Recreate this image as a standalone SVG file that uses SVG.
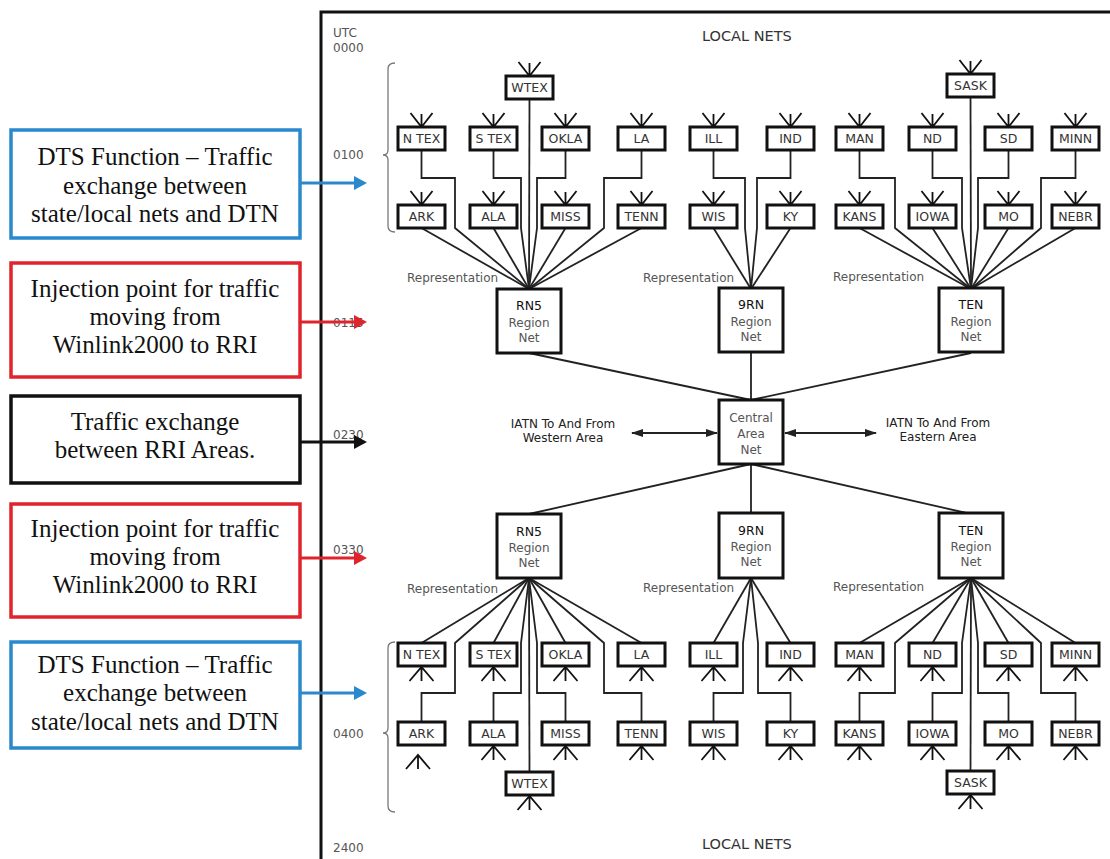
<svg xmlns="http://www.w3.org/2000/svg" xmlns:xlink="http://www.w3.org/1999/xlink" width="1110" height="859" viewBox="0 0 1110 859">
<style>
.bg{fill:#ffffff}
.frame{stroke:#111;stroke-width:3;fill:none}
.box{fill:#fff;stroke:#111;stroke-width:3}
.rbox{fill:#fff;stroke:#111;stroke-width:3}
.lbl{font-family:"DejaVu Sans",sans-serif;font-size:12.5px;fill:#333;text-anchor:middle}
.rlbl{font-family:"DejaVu Sans",sans-serif;font-size:12px;fill:#555;text-anchor:middle}
.rtitle{font-family:"DejaVu Sans",sans-serif;font-size:12.5px;fill:#111;text-anchor:middle}
.small{font-family:"DejaVu Sans",sans-serif;font-size:12px;fill:#555}
.iatn{font-family:"DejaVu Sans",sans-serif;font-size:12px;fill:#222;text-anchor:middle}
.local{font-family:"DejaVu Sans",sans-serif;font-size:14.5px;fill:#333}
.ant{fill:none;stroke:#111;stroke-width:1.8}
.conn{fill:none;stroke:#222;stroke-width:1.8}
.brk{fill:none;stroke:#777;stroke-width:1.3}
.cap{font-family:"Liberation Serif",serif;font-size:25px;fill:#111;text-anchor:middle}
.cb{fill:#fff;stroke-width:3.5}
</style>
<defs>
<path id="antUp" d="M-11,-14 L0,0 L11,-14 M0,0 V-13"/>
<path id="antDn" d="M-12,15 L0,1 L12,15 M0,1 V15"/>
<marker id="ah" viewBox="0 0 12 10" refX="11" refY="5" markerWidth="12" markerHeight="10" markerUnits="userSpaceOnUse" orient="auto-start-reverse"><path d="M0,1 L12,5 L0,9 Z" fill="#222"/></marker>
</defs>
<rect class="bg" x="0" y="0" width="1110" height="859"/>

<!-- frame -->
<path class="frame" d="M321,859 V12 H1110"/>

<!-- time labels -->
<g id="timeline">
<text class="small" x="333" y="37">UTC</text>
<text class="small" x="333" y="52">0000</text>
<text class="small" x="333" y="159">0100</text>
<text class="small" x="333" y="327">0115</text>
<text class="small" x="333" y="439">0230</text>
<text class="small" x="333" y="554">0330</text>
<text class="small" x="333" y="738">0400</text>
<text class="small" x="333" y="852">2400</text>
<path class="brk" d="M395,63 C390,63 388,65 388,69 V150 C388,153 386,155 383,155 C386,155 388,157 388,160 V226 C388,230 390,232 395,232"/>
<path class="brk" d="M395,642 C390,642 388,644 388,648 V728 C388,731 386,733 383,733 C386,733 388,735 388,738 V806 C388,810 390,812 395,812"/>
</g>

<text class="local" x="702" y="41">LOCAL NETS</text>
<text class="local" x="702" y="849">LOCAL NETS</text>

<!-- connectors -->
<g id="connectors" class="conn">
<path d="M421.5,150 V178 H455 V228 L529,289"/>
<path d="M493.5,150 V178 H521 V228 L529,289"/>
<path d="M565.5,150 V178 H537 V228 L529,289"/>
<path d="M641.5,150 V178 H604 V228 L529,289"/>
<path d="M421.5,228 L529,289"/>
<path d="M493.5,228 L529,289"/>
<path d="M565.5,228 L529,289"/>
<path d="M641.5,228 L529,289"/>
<path d="M529.5,99 L529,289"/>
<path d="M713.5,150 V178 H745 V228 L751,289"/>
<path d="M790.5,150 V178 H757 V228 L751,289"/>
<path d="M713.5,228 L751,289"/>
<path d="M790.5,228 L751,289"/>
<path d="M859.5,150 V178 H895 V228 L971,289"/>
<path d="M932.5,150 V178 H962 V228 L971,289"/>
<path d="M1008.5,150 V178 H978 V228 L971,289"/>
<path d="M1075.5,150 V178 H1041 V228 L971,289"/>
<path d="M859.5,228 L971,289"/>
<path d="M932.5,228 L971,289"/>
<path d="M1008.5,228 L971,289"/>
<path d="M1075.5,228 L971,289"/>
<path d="M970.5,97 L971,289"/>
<path d="M529,353 L751,400"/>
<path d="M751,352 V400"/>
<path d="M971,353 L751,400"/>
<path d="M751,464 L529,514"/>
<path d="M751,464 V514"/>
<path d="M751,464 L971,514"/>
<path d="M421.5,643 L529,578"/>
<path d="M493.5,643 L529,578"/>
<path d="M565.5,643 L529,578"/>
<path d="M641.5,643 L529,578"/>
<path d="M421.5,722 V693 H455 V643 L529,578"/>
<path d="M493.5,722 V693 H521 V643 L529,578"/>
<path d="M565.5,722 V693 H537 V643 L529,578"/>
<path d="M641.5,722 V693 H604 V643 L529,578"/>
<path d="M529.5,772 L529,578"/>
<path d="M713.5,643 L751,578"/>
<path d="M790.5,643 L751,578"/>
<path d="M713.5,722 V693 H743 V643 L751,578"/>
<path d="M790.5,722 V693 H758 V643 L751,578"/>
<path d="M859.5,643 L971,578"/>
<path d="M932.5,643 L971,578"/>
<path d="M1008.5,643 L971,578"/>
<path d="M1075.5,643 L971,578"/>
<path d="M859.5,722 V693 H895 V643 L971,578"/>
<path d="M932.5,722 V693 H962 V643 L971,578"/>
<path d="M1008.5,722 V693 H978 V643 L971,578"/>
<path d="M1075.5,722 V693 H1041 V643 L971,578"/>
<path d="M970.5,771 L971,578"/>
<path d="M632,433 H717" marker-start="url(#ah)" marker-end="url(#ah)"/>
<path d="M785,433 H876" marker-start="url(#ah)" marker-end="url(#ah)"/>
</g>

<text class="iatn" x="563" y="428">IATN To And From</text>
<text class="iatn" x="563" y="442">Western Area</text>
<text class="iatn" x="938" y="427">IATN To And From</text>
<text class="iatn" x="938" y="441">Eastern Area</text>

<text class="small" x="407" y="282">Representation</text>
<text class="small" x="643" y="282">Representation</text>
<text class="small" x="833" y="281">Representation</text>
<text class="small" x="407" y="593">Representation</text>
<text class="small" x="643" y="592">Representation</text>
<text class="small" x="833" y="591">Representation</text>

<!-- region nets -->
<g id="rn5-top"><rect class="rbox" x="497" y="289" width="64" height="64"/><text class="rtitle" x="529" y="310">RN5</text><text class="rlbl" x="529" y="327">Region</text><text class="rlbl" x="529" y="342">Net</text></g>
<g id="rn9-top"><rect class="rbox" x="719" y="288" width="64" height="64"/><text class="rtitle" x="751" y="309">9RN</text><text class="rlbl" x="751" y="326">Region</text><text class="rlbl" x="751" y="341">Net</text></g>
<g id="ten-top"><rect class="rbox" x="939" y="288" width="64" height="64"/><text class="rtitle" x="971" y="309">TEN</text><text class="rlbl" x="971" y="326">Region</text><text class="rlbl" x="971" y="341">Net</text></g>
<g id="central"><rect class="rbox" x="719" y="400" width="64" height="64"/><text class="rlbl" x="751" y="422">Central</text><text class="rlbl" x="751" y="438">Area</text><text class="rlbl" x="751" y="454">Net</text></g>
<g id="rn5-bot"><rect class="rbox" x="497" y="514" width="64" height="64"/><text class="rtitle" x="529" y="536">RN5</text><text class="rlbl" x="529" y="552">Region</text><text class="rlbl" x="529" y="567">Net</text></g>
<g id="rn9-bot"><rect class="rbox" x="719" y="513" width="64" height="65"/><text class="rtitle" x="751" y="535">9RN</text><text class="rlbl" x="751" y="551">Region</text><text class="rlbl" x="751" y="566">Net</text></g>
<g id="ten-bot"><rect class="rbox" x="939" y="513" width="64" height="65"/><text class="rtitle" x="971" y="535">TEN</text><text class="rlbl" x="971" y="551">Region</text><text class="rlbl" x="971" y="566">Net</text></g>

<!-- upper local nets -->
<g id="t-wtex"><use href="#antUp" class="ant" x="529.5" y="76"/><rect class="box" x="506" y="76" width="47" height="23"/><text class="lbl" x="529.5" y="92">WTEX</text></g>
<g id="t-sask"><use href="#antUp" class="ant" x="970.5" y="74"/><rect class="box" x="947" y="74" width="47" height="23"/><text class="lbl" x="970.5" y="90">SASK</text></g>
<g id="t-ntex"><use href="#antUp" class="ant" x="421.5" y="127"/><rect class="box" x="398" y="127" width="47" height="23"/><text class="lbl" x="421.5" y="143">N TEX</text></g>
<g id="t-stex"><use href="#antUp" class="ant" x="493.5" y="127"/><rect class="box" x="470" y="127" width="47" height="23"/><text class="lbl" x="493.5" y="143">S TEX</text></g>
<g id="t-okla"><use href="#antUp" class="ant" x="565.5" y="127"/><rect class="box" x="542" y="127" width="47" height="23"/><text class="lbl" x="565.5" y="143">OKLA</text></g>
<g id="t-la"><use href="#antUp" class="ant" x="641.5" y="127"/><rect class="box" x="618" y="127" width="47" height="23"/><text class="lbl" x="641.5" y="143">LA</text></g>
<g id="t-ill"><use href="#antUp" class="ant" x="713.5" y="127"/><rect class="box" x="690" y="127" width="47" height="23"/><text class="lbl" x="713.5" y="143">ILL</text></g>
<g id="t-ind"><use href="#antUp" class="ant" x="790.5" y="127"/><rect class="box" x="767" y="127" width="47" height="23"/><text class="lbl" x="790.5" y="143">IND</text></g>
<g id="t-man"><use href="#antUp" class="ant" x="859.5" y="127"/><rect class="box" x="836" y="127" width="47" height="23"/><text class="lbl" x="859.5" y="143">MAN</text></g>
<g id="t-nd"><use href="#antUp" class="ant" x="932.5" y="127"/><rect class="box" x="909" y="127" width="47" height="23"/><text class="lbl" x="932.5" y="143">ND</text></g>
<g id="t-sd"><use href="#antUp" class="ant" x="1008.5" y="127"/><rect class="box" x="985" y="127" width="47" height="23"/><text class="lbl" x="1008.5" y="143">SD</text></g>
<g id="t-minn"><use href="#antUp" class="ant" x="1075.5" y="127"/><rect class="box" x="1052" y="127" width="47" height="23"/><text class="lbl" x="1075.5" y="143">MINN</text></g>
<g id="t-ark"><use href="#antUp" class="ant" x="421.5" y="205"/><rect class="box" x="398" y="205" width="47" height="23"/><text class="lbl" x="421.5" y="221">ARK</text></g>
<g id="t-ala"><use href="#antUp" class="ant" x="493.5" y="205"/><rect class="box" x="470" y="205" width="47" height="23"/><text class="lbl" x="493.5" y="221">ALA</text></g>
<g id="t-miss"><use href="#antUp" class="ant" x="565.5" y="205"/><rect class="box" x="542" y="205" width="47" height="23"/><text class="lbl" x="565.5" y="221">MISS</text></g>
<g id="t-tenn"><use href="#antUp" class="ant" x="641.5" y="205"/><rect class="box" x="618" y="205" width="47" height="23"/><text class="lbl" x="641.5" y="221">TENN</text></g>
<g id="t-wis"><use href="#antUp" class="ant" x="713.5" y="205"/><rect class="box" x="690" y="205" width="47" height="23"/><text class="lbl" x="713.5" y="221">WIS</text></g>
<g id="t-ky"><use href="#antUp" class="ant" x="790.5" y="205"/><rect class="box" x="767" y="205" width="47" height="23"/><text class="lbl" x="790.5" y="221">KY</text></g>
<g id="t-kans"><use href="#antUp" class="ant" x="859.5" y="205"/><rect class="box" x="836" y="205" width="47" height="23"/><text class="lbl" x="859.5" y="221">KANS</text></g>
<g id="t-iowa"><use href="#antUp" class="ant" x="932.5" y="205"/><rect class="box" x="909" y="205" width="47" height="23"/><text class="lbl" x="932.5" y="221">IOWA</text></g>
<g id="t-mo"><use href="#antUp" class="ant" x="1008.5" y="205"/><rect class="box" x="985" y="205" width="47" height="23"/><text class="lbl" x="1008.5" y="221">MO</text></g>
<g id="t-nebr"><use href="#antUp" class="ant" x="1075.5" y="205"/><rect class="box" x="1052" y="205" width="47" height="23"/><text class="lbl" x="1075.5" y="221">NEBR</text></g>

<!-- lower local nets -->
<g id="b-ntex"><use href="#antDn" class="ant" x="421.5" y="666"/><rect class="box" x="398" y="643" width="47" height="23"/><text class="lbl" x="421.5" y="659">N TEX</text></g>
<g id="b-stex"><use href="#antDn" class="ant" x="493.5" y="666"/><rect class="box" x="470" y="643" width="47" height="23"/><text class="lbl" x="493.5" y="659">S TEX</text></g>
<g id="b-okla"><use href="#antDn" class="ant" x="565.5" y="666"/><rect class="box" x="542" y="643" width="47" height="23"/><text class="lbl" x="565.5" y="659">OKLA</text></g>
<g id="b-la"><use href="#antDn" class="ant" x="641.5" y="666"/><rect class="box" x="618" y="643" width="47" height="23"/><text class="lbl" x="641.5" y="659">LA</text></g>
<g id="b-ill"><use href="#antDn" class="ant" x="713.5" y="666"/><rect class="box" x="690" y="643" width="47" height="23"/><text class="lbl" x="713.5" y="659">ILL</text></g>
<g id="b-ind"><use href="#antDn" class="ant" x="790.5" y="666"/><rect class="box" x="767" y="643" width="47" height="23"/><text class="lbl" x="790.5" y="659">IND</text></g>
<g id="b-man"><use href="#antDn" class="ant" x="859.5" y="666"/><rect class="box" x="836" y="643" width="47" height="23"/><text class="lbl" x="859.5" y="659">MAN</text></g>
<g id="b-nd"><use href="#antDn" class="ant" x="932.5" y="666"/><rect class="box" x="909" y="643" width="47" height="23"/><text class="lbl" x="932.5" y="659">ND</text></g>
<g id="b-sd"><use href="#antDn" class="ant" x="1008.5" y="666"/><rect class="box" x="985" y="643" width="47" height="23"/><text class="lbl" x="1008.5" y="659">SD</text></g>
<g id="b-minn"><use href="#antDn" class="ant" x="1075.5" y="666"/><rect class="box" x="1052" y="643" width="47" height="23"/><text class="lbl" x="1075.5" y="659">MINN</text></g>
<g id="b-ark"><use href="#antDn" class="ant" x="418" y="754"/><rect class="box" x="398" y="722" width="47" height="23"/><text class="lbl" x="421.5" y="738">ARK</text></g>
<g id="b-ala"><use href="#antDn" class="ant" x="493.5" y="745"/><rect class="box" x="470" y="722" width="47" height="23"/><text class="lbl" x="493.5" y="738">ALA</text></g>
<g id="b-miss"><use href="#antDn" class="ant" x="565.5" y="745"/><rect class="box" x="542" y="722" width="47" height="23"/><text class="lbl" x="565.5" y="738">MISS</text></g>
<g id="b-tenn"><use href="#antDn" class="ant" x="641.5" y="745"/><rect class="box" x="618" y="722" width="47" height="23"/><text class="lbl" x="641.5" y="738">TENN</text></g>
<g id="b-wis"><use href="#antDn" class="ant" x="713.5" y="745"/><rect class="box" x="690" y="722" width="47" height="23"/><text class="lbl" x="713.5" y="738">WIS</text></g>
<g id="b-ky"><use href="#antDn" class="ant" x="790.5" y="745"/><rect class="box" x="767" y="722" width="47" height="23"/><text class="lbl" x="790.5" y="738">KY</text></g>
<g id="b-kans"><use href="#antDn" class="ant" x="859.5" y="745"/><rect class="box" x="836" y="722" width="47" height="23"/><text class="lbl" x="859.5" y="738">KANS</text></g>
<g id="b-iowa"><use href="#antDn" class="ant" x="932.5" y="745"/><rect class="box" x="909" y="722" width="47" height="23"/><text class="lbl" x="932.5" y="738">IOWA</text></g>
<g id="b-mo"><use href="#antDn" class="ant" x="1008.5" y="745"/><rect class="box" x="985" y="722" width="47" height="23"/><text class="lbl" x="1008.5" y="738">MO</text></g>
<g id="b-nebr"><use href="#antDn" class="ant" x="1075.5" y="745"/><rect class="box" x="1052" y="722" width="47" height="23"/><text class="lbl" x="1075.5" y="738">NEBR</text></g>
<g id="b-wtex"><use href="#antDn" class="ant" x="529.5" y="795"/><rect class="box" x="506" y="772" width="47" height="23"/><text class="lbl" x="529.5" y="788">WTEX</text></g>
<g id="b-sask"><use href="#antDn" class="ant" x="970.5" y="794"/><rect class="box" x="947" y="771" width="47" height="23"/><text class="lbl" x="970.5" y="787">SASK</text></g>

<!-- callouts -->
<g id="callout1">
<rect class="cb" x="11" y="130" width="289" height="108" stroke="#2a88cc"/>
<text class="cap" x="155" y="165">DTS Function – Traffic</text>
<text class="cap" x="155" y="193.5">exchange between</text>
<text class="cap" x="155" y="222">state/local nets and DTN</text>
<path d="M300,183 H356" stroke="#2a88cc" stroke-width="3"/><path d="M354,176 L367,183 L354,190 Z" fill="#2a88cc"/>
</g>
<g id="callout2">
<rect class="cb" x="11" y="263" width="289" height="114" stroke="#e0242c"/>
<text class="cap" x="155" y="297">Injection point for traffic</text>
<text class="cap" x="155" y="325">moving from</text>
<text class="cap" x="155" y="353">Winlink2000 to RRI</text>
<path d="M300,322 H356" stroke="#e0242c" stroke-width="3"/><path d="M354,315 L367,322 L354,329 Z" fill="#e0242c"/>
</g>
<g id="callout3">
<rect class="cb" x="11" y="396" width="289" height="87" stroke="#111"/>
<text class="cap" x="155" y="430">Traffic exchange</text>
<text class="cap" x="155" y="458">between RRI Areas.</text>
<path d="M300,442 H356" stroke="#111" stroke-width="3"/><path d="M354,435 L367,442 L354,449 Z" fill="#111"/>
</g>
<g id="callout4">
<rect class="cb" x="11" y="504" width="289" height="113" stroke="#e0242c"/>
<text class="cap" x="155" y="537">Injection point for traffic</text>
<text class="cap" x="155" y="565">moving from</text>
<text class="cap" x="155" y="593">Winlink2000 to RRI</text>
<path d="M300,558 H356" stroke="#e0242c" stroke-width="3"/><path d="M354,551 L367,558 L354,565 Z" fill="#e0242c"/>
</g>
<g id="callout5">
<rect class="cb" x="11" y="642" width="289" height="106" stroke="#2a88cc"/>
<text class="cap" x="155" y="673">DTS Function – Traffic</text>
<text class="cap" x="155" y="701">exchange between</text>
<text class="cap" x="155" y="730">state/local nets and DTN</text>
<path d="M300,693 H356" stroke="#2a88cc" stroke-width="3"/><path d="M354,686 L367,693 L354,700 Z" fill="#2a88cc"/>
</g>
</svg>
